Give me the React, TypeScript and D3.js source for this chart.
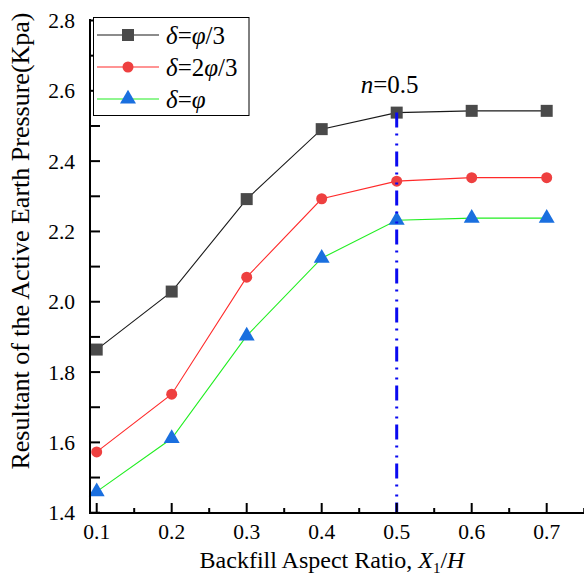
import React from "react";
import * as d3 from "d3";

const xValues = [0.1, 0.2, 0.3, 0.4, 0.5, 0.6, 0.7];
const thirdPhi = [1.864, 2.029, 2.292, 2.491, 2.538, 2.543, 2.543];
const twoThirdPhi = [1.573, 1.737, 2.07, 2.293, 2.343, 2.353, 2.353];
const fullPhi = [1.46, 1.611, 1.903, 2.124, 2.232, 2.238, 2.238];
const xTicks = [0.1, 0.2, 0.3, 0.4, 0.5, 0.6, 0.7];
const xMinor = [0.15, 0.25, 0.35, 0.45, 0.55, 0.65, 0.75];
const yTicks = [1.4, 1.6, 1.8, 2.0, 2.2, 2.4, 2.6, 2.8];
const yMinor = [1.5, 1.7, 1.9, 2.1, 2.3, 2.5, 2.7];
const markerLine = 0.5;

const series = [
  { key: "a", values: thirdPhi, line: "#1a1a1a", fill: "#4a4a4a", symbol: d3.symbolSquare, size: 144, pre: "", post: "/3" },
  { key: "b", values: twoThirdPhi, line: "#ff2a2a", fill: "#ee4040", symbol: d3.symbolCircle, size: 95, pre: "2", post: "/3" },
  { key: "c", values: fullPhi, line: "#22ee22", fill: "#1a6fdf", symbol: d3.symbolTriangle, size: 110, pre: "", post: "" },
];

const font = "'Liberation Serif', 'Times New Roman', Times, serif";

export default function App() {
  const width = 584;
  const height = 575;
  const x = d3.scaleLinear().domain([0.1, 0.7]).range([96.7, 546.7]);
  const y = d3.scaleLinear().domain([1.4, 2.8]).range([512.7, 20.5]);
  const left = 90;
  const bottom = 513;

  const line = d3
    .line<number>()
    .x((_, i) => x(xValues[i]))
    .y((d) => y(d));

  return (
    <svg
      width={width}
      height={height}
      style={{ position: "absolute", left: 0, top: 0, background: "#fff", fontFamily: font }}
    >
      {/* data */}
      {series.map((s) => (
        <g key={s.key}>
          <path d={line(s.values) || ""} fill="none" stroke={s.line} strokeWidth={1.1} />
          {s.values.map((v, i) => (
            <path
              key={i}
              transform={`translate(${x(xValues[i])},${y(v)})`}
              d={d3.symbol(s.symbol, s.size)() || ""}
              fill={s.fill}
            />
          ))}
        </g>
      ))}

      {/* n = 0.5 line */}
      <line
        x1={x(markerLine)}
        x2={x(markerLine)}
        y1={y(thirdPhi[4])}
        y2={bottom}
        stroke="#0a0af0"
        strokeWidth={3}
        strokeDasharray="15,6,2,8,2,6"
      />
      <text x={x(markerLine) - 36} y={93} fontSize={25}>
        <tspan fontStyle="italic">n</tspan>=0.5
      </text>

      {/* axes */}
      <line x1={left} x2={left} y1={19} y2={bottom + 1} stroke="#000" strokeWidth={2} />
      <line x1={left - 1} x2={width} y1={bottom} y2={bottom} stroke="#000" strokeWidth={2} />
      {yTicks.map((t) => (
        <g key={t}>
          <line x1={left} x2={left + 10} y1={y(t)} y2={y(t)} stroke="#000" strokeWidth={2} />
          <text x={75} y={y(t)} dy="0.35em" textAnchor="end" fontSize={21.5}>
            {t.toFixed(1)}
          </text>
        </g>
      ))}
      {yMinor.map((t) => (
        <line key={t} x1={left} x2={left + 10} y1={y(t)} y2={y(t)} stroke="#000" strokeWidth={2} />
      ))}
      {xTicks.map((t) => (
        <g key={t}>
          <line x1={x(t)} x2={x(t)} y1={bottom} y2={bottom - 10} stroke="#000" strokeWidth={2} />
          <text x={x(t)} y={539} textAnchor="middle" fontSize={21.5}>
            {t.toFixed(1)}
          </text>
        </g>
      ))}
      {xMinor.map((t) => (
        <line key={t} x1={x(t)} x2={x(t)} y1={bottom} y2={bottom - 5} stroke="#000" strokeWidth={2} />
      ))}

      {/* axis titles */}
      <text x={332} y={568} textAnchor="middle" fontSize={24}>
        Backfill Aspect Ratio, <tspan fontStyle="italic">X</tspan>
        <tspan fontSize={15} dy={5}>1</tspan>
        <tspan dy={-5}>/</tspan>
        <tspan fontStyle="italic">H</tspan>
      </text>
      <text transform="translate(29,241) rotate(-90)" textAnchor="middle" fontSize={26}>
        Resultant of the Active Earth Pressure(Kpa)
      </text>

      {/* legend */}
      <rect x={93.5} y={17.5} width={155.5} height={98} fill="#fff" stroke="#000" strokeWidth={1} />
      {series.map((s, i) => {
        const ry = 35 + i * 32;
        return (
          <g key={s.key}>
            <line x1={97} x2={159} y1={ry} y2={ry} stroke={s.line} strokeWidth={1.1} />
            <path transform={`translate(128,${ry})`} d={d3.symbol(s.symbol, s.size)() || ""} fill={s.fill} />
            <text x={166} y={ry + 9} fontSize={25}>
              <tspan fontStyle="italic">δ</tspan>={s.pre}
              <tspan fontStyle="italic">φ</tspan>
              {s.post}
            </text>
          </g>
        );
      })}
    </svg>
  );
}
